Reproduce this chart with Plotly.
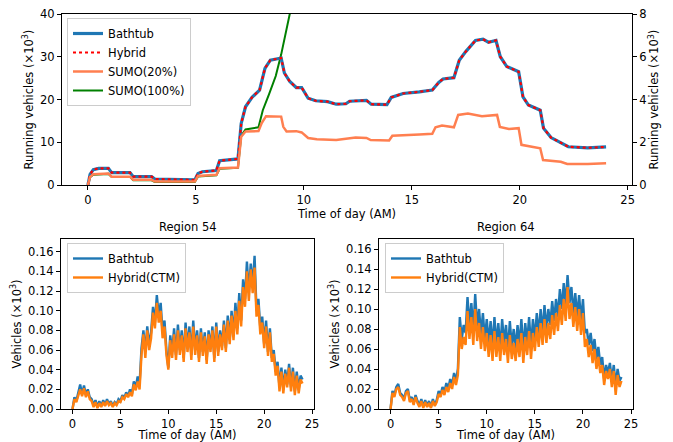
import plotly.graph_objects as go

# ---------------- Top panel data (thousands of vehicles) ----------------
T_BATH = [0, 0.1, 0.25, 0.5, 0.95, 1.1, 1.95, 2.1, 2.95, 3.1, 4.95, 5.1, 5.3, 5.95, 6.1, 6.95,
          7.1, 7.3, 7.6, 7.95, 8.2, 8.45, 8.95, 9.1, 9.35, 9.65, 9.9, 10.2, 10.55, 11.1, 11.5,
          11.95, 12.12, 12.9, 13.12, 13.85, 14.05, 14.6, 15.35, 15.95, 16.25, 16.45, 16.95,
          17.2, 17.5, 17.95, 18.3, 18.55, 18.9, 19.1, 19.4, 19.95, 20.15, 20.4, 20.95, 21.1,
          21.45, 22.0, 22.25, 23.15, 24.0]
BATHTUB = [0.0, 0.5, 0.72, 0.78, 0.78, 0.58, 0.58, 0.39, 0.39, 0.28, 0.24, 0.54, 0.62, 0.68, 1.14,
           1.22, 2.88, 3.66, 4.1, 4.44, 5.46, 5.84, 5.94, 5.24, 4.84, 4.56, 4.56, 4.06, 3.94, 3.9,
           3.78, 3.8, 3.92, 3.96, 3.78, 3.76, 4.1, 4.28, 4.36, 4.44, 4.8, 4.96, 5.02, 5.84, 6.24,
           6.76, 6.82, 6.68, 6.76, 6.0, 5.54, 5.3, 4.12, 3.74, 3.5, 2.66, 2.22, 1.94, 1.79, 1.74, 1.78]
HYBRID = [0.0, 0.5, 0.72, 0.78, 0.78, 0.58, 0.58, 0.39, 0.39, 0.28, 0.24, 0.54, 0.62, 0.68, 1.14,
          1.22, 2.88, 3.66, 4.1, 4.44, 5.46, 5.84, 5.94, 5.24, 4.84, 4.56, 4.56, 4.06, 3.94, 3.9,
          3.78, 3.8, 3.92, 3.96, 3.78, 3.76, 4.1, 4.28, 4.36, 4.44, 4.8, 4.96, 5.02, 5.84, 6.24,
          6.76, 6.82, 6.68, 6.76, 6.0, 5.54, 5.3, 4.12, 3.74, 3.5, 2.66, 2.22, 1.94, 1.79, 1.74, 1.78]

T_SUMO20 = [0, 0.1, 0.25, 0.95, 1.1, 1.95, 2.1, 2.95, 3.1, 4.95, 5.1, 5.95, 6.1, 6.95, 7.1, 7.3,
            7.9, 8.05, 8.25, 8.95, 9.05, 9.2, 9.65, 9.9, 10.2, 10.6, 11.5, 12.0, 12.4, 12.9, 13.1,
            13.95, 14.1, 15.35, 15.95, 16.1, 16.4, 16.95, 17.15, 17.6, 18.25, 18.95, 19.08, 19.5,
            19.95, 20.08, 20.7, 20.95, 21.08, 21.9, 22.2, 23.15, 24.0]
SUMO20 = [0.0, 0.38, 0.5, 0.54, 0.39, 0.39, 0.24, 0.24, 0.16, 0.16, 0.42, 0.48, 0.78, 0.82, 2.26,
          2.5, 2.52, 2.9, 3.22, 3.2, 2.72, 2.5, 2.52, 2.46, 2.2, 2.14, 2.1, 2.16, 2.22, 2.2, 2.1,
          2.08, 2.3, 2.36, 2.4, 2.7, 2.78, 2.7, 3.28, 3.34, 3.22, 3.28, 2.72, 2.62, 2.66, 1.88,
          1.76, 1.72, 1.17, 1.09, 0.98, 0.98, 1.02]

T_SUMO100 = [0, 0.1, 0.25, 0.95, 1.1, 1.95, 2.1, 2.95, 3.1, 4.95, 5.1, 5.95, 6.1, 6.95, 7.1, 7.3,
             7.9, 8.1, 8.4, 8.7, 8.95, 9.2, 9.4, 9.6]
SUMO100 = [0.0, 1.8, 2.4, 2.6, 1.9, 1.9, 1.1, 1.1, 0.7, 0.7, 2.0, 2.3, 3.8, 4.0, 11.5, 13.0, 13.5,
           17.5, 21.4, 25.5, 30.5, 36.3, 41.0, 46.0]

# ---------------- Bottom panels data (vehicles), sampled every 0.2 h ----------------
T_REGION = [round(i * 0.2, 1) for i in range(121)]

R54_BATHTUB = [0, 12, 8, 16, 25, 15, 24, 14, 20, 12, 10, 4, 9, 2, 8, 3, 9, 4, 10, 5,
               8, 3, 7, 5, 10, 8, 14, 11, 17, 13, 20, 15, 28, 22, 33, 25, 62, 80, 58, 84,
               65, 78, 104, 88, 116, 95, 108, 78, 90, 60, 42, 75, 58, 82, 55, 86, 60, 80, 52, 88,
               62, 84, 55, 90, 60, 80, 52, 82, 58, 78, 50, 80, 62, 84, 52, 88, 58, 80, 64, 90,
               62, 95, 70, 100, 75, 108, 82, 118, 90, 132, 112, 150, 118, 148, 125, 156, 100, 112, 82, 94,
               66, 90, 58, 82, 52, 60, 38, 48, 22, 42, 20, 40, 25, 46, 22, 42, 18, 38, 20, 34, 30]
R54_HYBRID = [0, 10, 7, 14, 20, 13, 21, 12, 18, 10, 8, 2, 7, 1, 6, 2, 7, 3, 8, 4,
              6, 2, 6, 4, 8, 7, 12, 10, 15, 12, 17, 13, 25, 19, 28, 20, 55, 76, 52, 80,
              60, 72, 98, 82, 108, 88, 100, 72, 84, 55, 40, 70, 52, 76, 50, 80, 55, 75, 48, 82,
              58, 78, 50, 84, 55, 75, 48, 78, 54, 74, 46, 76, 58, 80, 48, 84, 54, 76, 60, 86,
              58, 90, 66, 95, 70, 100, 76, 110, 84, 124, 104, 140, 110, 142, 118, 144, 94, 106, 76, 88,
              62, 84, 54, 78, 48, 56, 34, 44, 18, 38, 16, 36, 22, 42, 18, 38, 14, 34, 16, 30, 26]
R64_BATHTUB = [0, 18, 14, 22, 25, 16, 14, 10, 18, 20, 9, 12, 6, 14, 8, 4, 10, 2, 9, 3,
               8, 2, 10, 4, 9, 18, 14, 22, 17, 26, 20, 30, 24, 36, 28, 40, 92, 70, 84, 76,
               112, 84, 106, 78, 115, 82, 100, 74, 96, 70, 90, 66, 88, 62, 92, 64, 86, 60, 90, 66,
               84, 58, 88, 62, 80, 60, 84, 64, 90, 58, 86, 66, 92, 62, 90, 70, 96, 74, 100, 76,
               104, 80, 100, 84, 108, 88, 110, 92, 120, 100, 126, 104, 134, 106, 122, 96, 116, 92, 114, 88,
               110, 76, 80, 64, 76, 58, 70, 50, 62, 44, 52, 30, 44, 36, 46, 28, 44, 24, 40, 28, 32]
R64_HYBRID = [0, 16, 12, 20, 22, 14, 12, 8, 16, 18, 7, 10, 4, 12, 6, 2, 8, 1, 7, 2,
              6, 1, 8, 3, 7, 15, 12, 19, 14, 22, 17, 26, 20, 32, 24, 34, 82, 60, 72, 64,
              98, 70, 92, 64, 100, 68, 86, 60, 82, 58, 76, 52, 74, 48, 78, 52, 72, 48, 76, 54,
              70, 46, 74, 50, 66, 48, 70, 52, 76, 46, 72, 54, 78, 50, 76, 58, 82, 62, 86, 64,
              90, 66, 86, 70, 94, 74, 96, 78, 104, 84, 110, 88, 122, 90, 106, 82, 102, 78, 100, 74,
              96, 62, 70, 52, 64, 46, 60, 40, 52, 36, 44, 24, 38, 30, 40, 22, 38, 14, 34, 22, 28]

BLUE = "#1f77b4"
ORANGE = "#ff7f0e"
FONT = "DejaVu Sans"
FS = 11.5

fig = go.Figure()

# Top panel
fig.add_trace(go.Scatter(x=T_SUMO100, y=SUMO100, mode="lines", name="SUMO(100%)",
                         line=dict(color="green", width=2), xaxis="x", yaxis="y",
                         legend="legend", legendrank=4))
fig.add_trace(go.Scatter(x=T_BATH, y=BATHTUB, mode="lines", name="Bathtub",
                         line=dict(color=BLUE, width=3.2), xaxis="x", yaxis="y2",
                         legend="legend", legendrank=1))
fig.add_trace(go.Scatter(x=T_BATH, y=HYBRID, mode="lines", name="Hybrid",
                         line=dict(color="red", width=2.2, dash="dot"), xaxis="x", yaxis="y2",
                         legend="legend", legendrank=2))
fig.add_trace(go.Scatter(x=T_SUMO20, y=SUMO20, mode="lines", name="SUMO(20%)",
                         line=dict(color="coral", width=2.5), xaxis="x", yaxis="y2",
                         legend="legend", legendrank=3))

# Bottom left
fig.add_trace(go.Scatter(x=T_REGION, y=[v / 1000 for v in R54_BATHTUB], mode="lines", name="Bathtub",
                         line=dict(color=BLUE, width=2.4), xaxis="x3", yaxis="y3", legend="legend2"))
fig.add_trace(go.Scatter(x=T_REGION, y=[v / 1000 for v in R54_HYBRID], mode="lines", name="Hybrid(CTM)",
                         line=dict(color=ORANGE, width=2.4), xaxis="x3", yaxis="y3", legend="legend2"))
# Bottom right
fig.add_trace(go.Scatter(x=T_REGION, y=[v / 1000 for v in R64_BATHTUB], mode="lines", name="Bathtub",
                         line=dict(color=BLUE, width=2.4), xaxis="x4", yaxis="y4", legend="legend3"))
fig.add_trace(go.Scatter(x=T_REGION, y=[v / 1000 for v in R64_HYBRID], mode="lines", name="Hybrid(CTM)",
                         line=dict(color=ORANGE, width=2.4), xaxis="x4", yaxis="y4", legend="legend3"))

axis_style = dict(showline=True, linecolor="black", linewidth=1, mirror=True, ticks="outside",
                  ticklen=4, tickwidth=1, tickcolor="black", showgrid=False, zeroline=False,
                  automargin=False, tickfont=dict(family=FONT, size=FS, color="black"))
axis_style_nomirror = {k: v for k, v in axis_style.items() if k != "mirror"}

W, H = 673, 442
def px_x(a, b):
    return [a / W, b / W]
def px_y(top, bottom):
    return [1 - bottom / H, 1 - top / H]

legend_style = dict(bgcolor="rgba(255,255,255,0.8)", bordercolor="#cccccc", borderwidth=1,
                    font=dict(family=FONT, size=FS, color="black"), xanchor="left", yanchor="top",
                    tracegroupgap=0, itemwidth=30)

TICKS01 = [0, 0.02, 0.04, 0.06, 0.08, 0.10, 0.12, 0.14, 0.16]

fig.update_layout(
    width=W, height=H,
    margin=dict(l=0, r=0, t=0, b=0, autoexpand=False),
    paper_bgcolor="white", plot_bgcolor="white",
    font=dict(family=FONT, size=FS, color="black"),
    xaxis=dict(domain=px_x(62, 632), range=[-1.2, 25.2], tickvals=[0, 5, 10, 15, 20, 25],
               title=dict(text="Time of day (AM)", standoff=1, font=dict(size=FS)), anchor="y",
               **axis_style),
    yaxis=dict(domain=px_y(14, 185), range=[0, 40], tickvals=[0, 10, 20, 30, 40],
               title=dict(text="Running vehicles (×10<sup>3</sup>)", standoff=4, font=dict(size=FS)),
               anchor="x", **axis_style),
    yaxis2=dict(overlaying="y", side="right", range=[0, 8], tickvals=[0, 2, 4, 6, 8],
                title=dict(text="Running vehicles (×10<sup>3</sup>)", standoff=4, font=dict(size=FS)),
                anchor="x", **axis_style_nomirror),
    xaxis3=dict(domain=px_x(61, 314), range=[-1.2, 25.2], tickvals=[0, 5, 10, 15, 20, 25],
                title=dict(text="Time of day (AM)", standoff=3, font=dict(size=FS)), anchor="y3",
                **axis_style),
    yaxis3=dict(domain=px_y(239, 409), range=[0, 0.173], tickvals=TICKS01, tickformat=".2f",
                title=dict(text="Vehicles (×10<sup>3</sup>)", standoff=4, font=dict(size=FS)),
                anchor="x3", **axis_style),
    xaxis4=dict(domain=px_x(379, 633), range=[-1.2, 25.2], tickvals=[0, 5, 10, 15, 20, 25],
                title=dict(text="Time of day (AM)", standoff=3, font=dict(size=FS)), anchor="y4",
                **axis_style),
    yaxis4=dict(domain=px_y(239, 409), range=[0, 0.170], tickvals=TICKS01, tickformat=".2f",
                title=dict(text="Vehicles (×10<sup>3</sup>)", standoff=4, font=dict(size=FS)),
                anchor="x4", **axis_style),
    legend=dict(x=67 / W, y=1 - 18 / H, traceorder="normal", **legend_style),
    legend2=dict(x=67 / W, y=1 - 243 / H, **legend_style),
    legend3=dict(x=385 / W, y=1 - 243 / H, **legend_style),
    annotations=[
        dict(text="Region 54", x=(61 + 314) / 2 / W, y=1 - 236 / H, xref="paper", yref="paper",
             xanchor="center", yanchor="bottom", showarrow=False, font=dict(family=FONT, size=FS)),
        dict(text="Region 64", x=(379 + 633) / 2 / W, y=1 - 236 / H, xref="paper", yref="paper",
             xanchor="center", yanchor="bottom", showarrow=False, font=dict(family=FONT, size=FS)),
    ],
)

fig.write_html("out.html", config={"displayModeBar": False},
               post_script="document.body.style.margin='0';document.body.style.overflow='hidden';")
